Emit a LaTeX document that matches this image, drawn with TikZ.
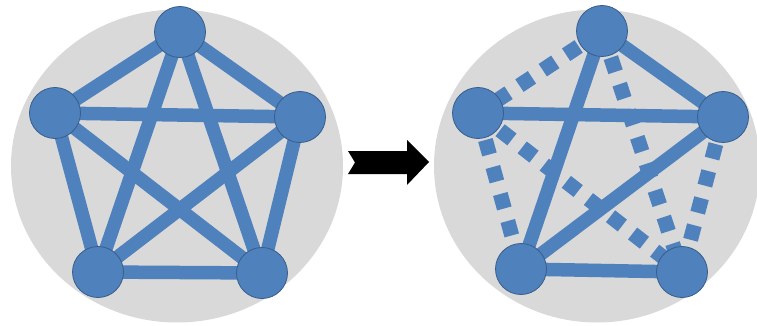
\documentclass[tikz,border=0pt]{standalone}
\usetikzlibrary{calc,shapes.geometric}
\definecolor{nodeblue}{HTML}{4F81BD}
\definecolor{nodeedge}{HTML}{385D8A}
\definecolor{bggray}{HTML}{D9D9D9}
\tikzset{
  vtx/.style={circle, fill=nodeblue, draw=nodeedge, line width=0.8pt, minimum size=51pt, inner sep=0pt},
  solidedge/.style={draw=nodeblue, line width=13.5pt},
  dotedge/.style={draw=nodeblue, line width=15pt, dash pattern=on 15pt off 13pt},
  bgdisc/.style={fill=bggray, draw=none}
}
\begin{document}
\begin{tikzpicture}[x=1pt,y=-1pt]
\useasboundingbox (0,0) rectangle (757,326);
% backgrounds
\node[bgdisc, ellipse, minimum width=332pt, minimum height=313pt, inner sep=0pt] (bgA) at (177,166) {};
\node[bgdisc, ellipse, minimum width=326pt, minimum height=313pt, inner sep=0pt] (bgB) at (597,166) {};
% left graph coordinates
\coordinate (a1) at (180,32);
\coordinate (a2) at (55,113);
\coordinate (a3) at (300,117);
\coordinate (a4) at (98,272);
\coordinate (a5) at (262,273);
\foreach \u/\v in {a1/a2,a1/a3,a1/a4,a1/a5,a2/a3,a2/a4,a2/a5,a3/a4,a3/a5,a4/a5}
  \draw[solidedge] (\u) -- (\v);
\foreach \c in {a1,a2,a3,a4,a5}
  \node[vtx] (n\c) at (\c) {};
% right graph coordinates
\coordinate (b1) at (602,31);
\coordinate (b2) at (478,113);
\coordinate (b3) at (723,117);
\coordinate (b4) at (521,269);
\coordinate (b5) at (682,272);
\foreach \u/\v in {b1/b4,b1/b3,b2/b3,b3/b4,b4/b5}
  \draw[solidedge] (\u) -- (\v);
\foreach \u/\v in {b1/b2,b1/b5,b2/b4,b2/b5,b3/b5}
  \draw[dotedge] (\u) -- (\v);
\foreach \c in {b1,b2,b3,b4,b5}
  \node[vtx] (n\c) at (\c) {};
% arrow
\coordinate (arrowTip) at (429,162);
\fill[black] (348,151) -- (407,151) -- (407,140) -- (arrowTip) -- (407,185) -- (407,174) -- (348,174) -- (355,162.5) -- cycle;
\end{tikzpicture}
\end{document}
